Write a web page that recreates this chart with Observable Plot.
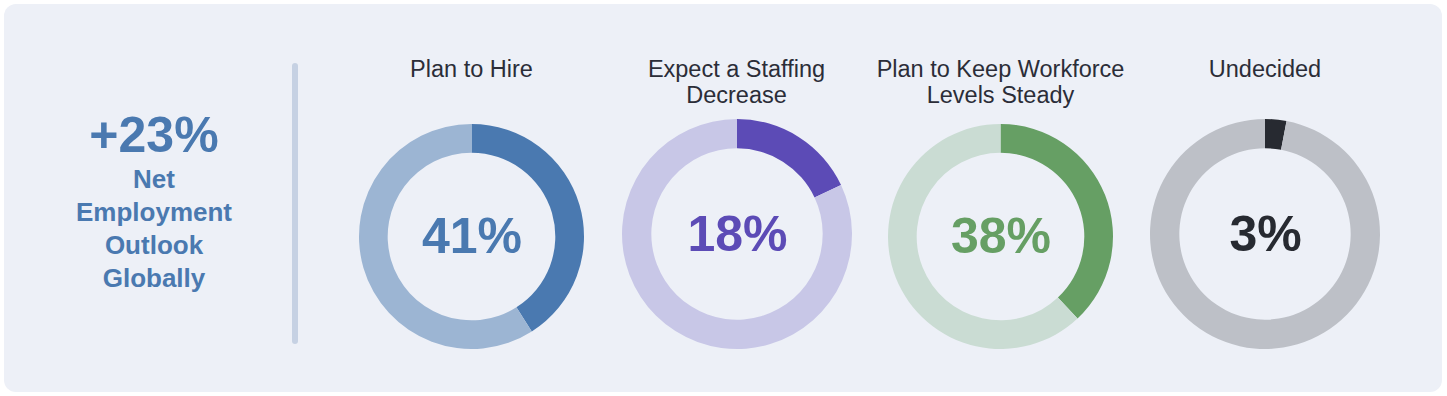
<!DOCTYPE html>
<html>
<head>
<meta charset="utf-8">
<script src="https://cdn.jsdelivr.net/npm/d3@7"></script>
<script src="https://cdn.jsdelivr.net/npm/@observablehq/plot@0.6"></script>
<style>
  html, body { margin: 0; padding: 0; background: #ffffff; }
  body { width: 1447px; height: 396px; overflow: hidden; position: relative;
         font-family: "Liberation Sans", Arial, Helvetica, sans-serif; }
  #panel { position: absolute; left: 4px; top: 4px; width: 1438px; height: 388px;
           border-radius: 12px; background: #edf0f7; }
  .abs { position: absolute; }
  .headline { width: 220px; text-align: center; color: #4a79b0; font-weight: bold;
              font-size: 50px; line-height: 50px; white-space: nowrap; }
  .sublabel { width: 220px; text-align: center; color: #4a79b0; font-weight: bold;
              font-size: 26px; line-height: 33px; }
  .divider { background: #c6d1e3; border-radius: 3px; }
  .title { width: 262px; text-align: center; color: #2b2d38; font-size: 23.5px; line-height: 26px; }
  .donut svg { display: block; overflow: visible; }
</style>
</head>
<body>
<div id="panel"></div>
<div id="root"></div>
<script>
// ---- data ----
const categories = ["Plan to Hire", "Expect a Staffing Decrease", "Plan to Keep Workforce Levels Steady", "Undecided"];
const shares = [41, 18, 38, 3];
const netOutlook = 23;
const netLabelLines = ["Net", "Employment", "Outlook", "Globally"];

// ---- styles ----
const darkColors  = ["#4a79b0", "#5c4bb6", "#669f64", "#272a31"];
const lightColors = ["#9cb5d3", "#c8c7e7", "#cadcd3", "#bdc0c7"];

// ---- layout (pixels) ----
const donutLayout = [
  {cx: 471.5, cy: 236.5, r: 112.5},
  {cx: 736.5, cy: 234,   r: 115},
  {cx: 1000.5, cy: 236.5, r: 112.5},
  {cx: 1265,  cy: 234,   r: 115}
];
const innerRatio = 0.745;

const root = document.getElementById("root");

// left headline
const head = document.createElement("div");
head.className = "abs headline";
head.style.left = (154 - 110) + "px";
head.style.top = "110px";
head.textContent = (netOutlook >= 0 ? "+" : "") + netOutlook + "%";
root.appendChild(head);

const sub = document.createElement("div");
sub.className = "abs sublabel";
sub.style.left = (154 - 110) + "px";
sub.style.top = "162.5px";
sub.innerHTML = netLabelLines.join("<br>");
root.appendChild(sub);

const div = document.createElement("div");
div.className = "abs divider";
div.style.left = "292px"; div.style.top = "63px";
div.style.width = "6px"; div.style.height = "281px";
root.appendChild(div);

// arc renderer: turns stacked bar extents (scaled to angles by the x scale) into ring slices
function ringRender(index, scales, values, dimensions) {
  const {width, height} = dimensions;
  const R = Math.min(width, height) / 2;
  const arc = d3.arc().innerRadius(R * innerRatio).outerRadius(R);
  const g = d3.create("svg:g").attr("transform", `translate(${width / 2},${height / 2})`);
  for (const i of index) {
    g.append("path")
      .attr("d", arc({startAngle: values.x1[i], endAngle: values.x2[i]}))
      .attr("fill", values.fill[i]);
  }
  return g.node();
}

categories.forEach((cat, i) => {
  const {cx, cy, r} = donutLayout[i];
  const rows = [
    {part: "share", value: shares[i]},
    {part: "rest", value: 100 - shares[i]}
  ];

  const title = document.createElement("div");
  title.className = "abs title";
  title.style.left = (cx - 131) + "px";
  title.style.top = "55.5px";
  title.textContent = cat;
  root.appendChild(title);

  const chart = Plot.plot({
    width: 2 * r,
    height: 2 * r,
    margin: 0,
    style: {background: "transparent", fontFamily: "'Liberation Sans', Arial, sans-serif"},
    x: {domain: [0, 100], range: [0, 2 * Math.PI], axis: null},
    y: {axis: null},
    color: {domain: ["share", "rest"], range: [darkColors[i], lightColors[i]]},
    marks: [
      Plot.barX(rows, Plot.stackX({x: "value", fill: "part", render: ringRender})),
      Plot.text([shares[i]], {
        text: d => d + "%",
        frameAnchor: "middle",
        fontSize: 50,
        fontWeight: "bold",
        fill: darkColors[i]
      })
    ]
  });
  const holder = document.createElement("div");
  holder.className = "abs donut";
  holder.style.left = (cx - r) + "px";
  holder.style.top = (cy - r) + "px";
  holder.appendChild(chart);
  root.appendChild(holder);
});
</script>
</body>
</html>
